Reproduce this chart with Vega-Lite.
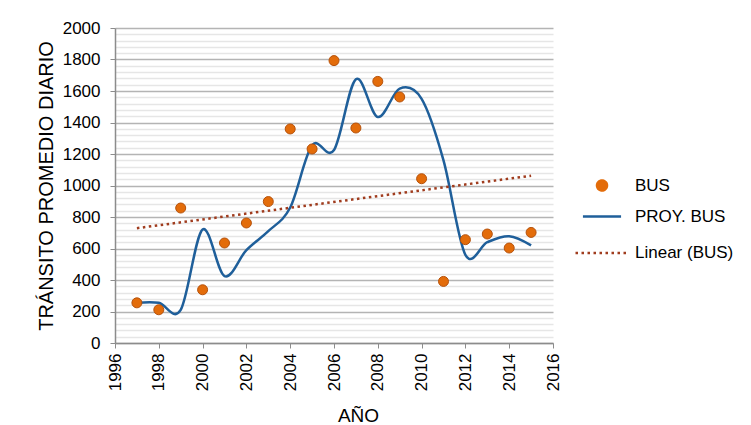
{
  "$schema": "https://vega.github.io/schema/vega-lite/v6.json",
  "width": 438,
  "height": 315,
  "autosize": "none",
  "padding": {"left": 115, "top": 28, "right": 198, "bottom": 82},
  "background": "white",
  "config": {"view": {"stroke": null}, "font": "Liberation Sans"},
  "data": {
    "values": [
      {"year": 1997, "bus": 255, "proy": 255},
      {"year": 1998, "bus": 211, "proy": 255},
      {"year": 1999, "bus": 857, "proy": 210},
      {"year": 2000, "bus": 338, "proy": 720},
      {"year": 2001, "bus": 635, "proy": 425},
      {"year": 2002, "bus": 762, "proy": 590},
      {"year": 2003, "bus": 898, "proy": 710},
      {"year": 2004, "bus": 1359, "proy": 860},
      {"year": 2005, "bus": 1232, "proy": 1255},
      {"year": 2006, "bus": 1793, "proy": 1225},
      {"year": 2007, "bus": 1365, "proy": 1675},
      {"year": 2008, "bus": 1661, "proy": 1435},
      {"year": 2009, "bus": 1562, "proy": 1615},
      {"year": 2010, "bus": 1043, "proy": 1550},
      {"year": 2011, "bus": 391, "proy": 1160},
      {"year": 2012, "bus": 656, "proy": 560},
      {"year": 2013, "bus": 692, "proy": 640},
      {"year": 2014, "bus": 603, "proy": 678},
      {"year": 2015, "bus": 702, "proy": 620}
    ]
  },
  "layer": [
    {
      "mark": {"type": "point", "opacity": 0},
      "encoding": {
        "y": {
          "field": "bus",
          "type": "quantitative",
          "scale": {"domain": [0, 2000]},
          "axis": {
            "orient": "right",
            "values": [40,80,120,160,240,280,320,360,440,480,520,560,640,680,720,760,840,880,920,960,1040,1080,1120,1160,1240,1280,1320,1360,1440,1480,1520,1560,1640,1680,1720,1760,1840,1880,1920,1960],
            "grid": true,
            "gridColor": "#e6e6e6",
            "gridWidth": 1.3,
            "labels": false,
            "ticks": false,
            "domain": false,
            "title": null
          }
        }
      }
    },
    {
      "encoding": {
        "x": {
          "field": "year",
          "type": "quantitative",
          "scale": {"domain": [1996, 2016]},
          "axis": {
            "values": [1996,1998,2000,2002,2004,2006,2008,2010,2012,2014,2016],
            "format": "d",
            "labelAngle": 270,
            "labelOverlap": false,
            "labelFontSize": 17,
            "labelColor": "#000000",
            "labelPadding": 5,
            "tickSize": 5,
            "tickColor": "#8c8c8c",
            "domainColor": "#8c8c8c",
            "domainWidth": 1.5,
            "grid": false,
            "title": "AÑO",
            "titleFontSize": 19,
            "titleFontWeight": "normal",
            "titleColor": "#000000",
            "titleX": 243,
            "titleY": 78,
            "titleAlign": "center",
            "titleBaseline": "alphabetic"
          }
        }
      },
      "layer": [
        {
          "mark": {"type": "line", "interpolate": "cardinal", "strokeWidth": 2.5},
          "encoding": {
            "y": {
              "field": "proy",
              "type": "quantitative",
              "scale": {"domain": [0, 2000]},
              "title": "TRÁNSITO PROMEDIO DIARIO",
              "axis": {
                "values": [0,200,400,600,800,1000,1200,1400,1600,1800,2000],
                "format": "d",
                "labelOverlap": false,
                "grid": true,
                "gridColor": "#b4b4b4",
                "gridWidth": 1.3,
                "labelFontSize": 17,
                "labelColor": "#000000",
                "labelPadding": 10,
                "tickSize": 5,
                "tickColor": "#8c8c8c",
                "domainColor": "#8c8c8c",
                "domainWidth": 1.5,
                "titleFontSize": 20,
                "titleFontWeight": "normal",
                "titleColor": "#000000",
                "titleX": -63,
                "titleY": 157.5,
                "titleAngle": 270,
                "titleAlign": "center",
                "titleBaseline": "alphabetic"
              }
            },
            "color": {"datum": "PROY. BUS", "type": "nominal"}
          }
        },
        {
          "transform": [{"regression": "bus", "on": "year"}],
          "mark": {"type": "line", "strokeWidth": 2.5},
          "encoding": {
            "y": {
              "field": "bus",
              "type": "quantitative",
              "title": "TRÁNSITO PROMEDIO DIARIO",
              "axis": {
                "values": [0,200,400,600,800,1000,1200,1400,1600,1800,2000],
                "format": "d",
                "labelOverlap": false,
                "grid": true,
                "gridColor": "#b4b4b4",
                "gridWidth": 1.3,
                "labelFontSize": 17,
                "labelColor": "#000000",
                "labelPadding": 10,
                "tickSize": 5,
                "tickColor": "#8c8c8c",
                "domainColor": "#8c8c8c",
                "domainWidth": 1.5,
                "titleFontSize": 20,
                "titleFontWeight": "normal",
                "titleColor": "#000000",
                "titleX": -63,
                "titleY": 157.5,
                "titleAngle": 270,
                "titleAlign": "center",
                "titleBaseline": "alphabetic"
              }
            },
            "color": {"datum": "Linear (BUS)", "type": "nominal"},
            "strokeDash": {
              "datum": "Linear (BUS)",
              "type": "nominal",
              "scale": {
                "domain": ["BUS", "PROY. BUS", "Linear (BUS)"],
                "range": [[1, 0], [1, 0], [2.5, 3.5]]
              }
            }
          }
        },
        {
          "mark": {"type": "point", "filled": true, "opacity": 1, "stroke": "#b5520c", "strokeWidth": 1},
          "encoding": {
            "y": {
              "field": "bus",
              "type": "quantitative",
              "title": "TRÁNSITO PROMEDIO DIARIO",
              "axis": {
                "values": [0,200,400,600,800,1000,1200,1400,1600,1800,2000],
                "format": "d",
                "labelOverlap": false,
                "grid": true,
                "gridColor": "#b4b4b4",
                "gridWidth": 1.3,
                "labelFontSize": 17,
                "labelColor": "#000000",
                "labelPadding": 10,
                "tickSize": 5,
                "tickColor": "#8c8c8c",
                "domainColor": "#8c8c8c",
                "domainWidth": 1.5,
                "titleFontSize": 20,
                "titleFontWeight": "normal",
                "titleColor": "#000000",
                "titleX": -63,
                "titleY": 157.5,
                "titleAngle": 270,
                "titleAlign": "center",
                "titleBaseline": "alphabetic"
              }
            },
            "shape": {
              "datum": "BUS",
              "type": "nominal",
              "scale": {
                "domain": ["BUS", "PROY. BUS", "Linear (BUS)"],
                "range": ["circle", "stroke", "stroke"]
              }
            },
            "size": {
              "datum": "BUS",
              "type": "nominal",
              "scale": {
                "domain": ["BUS", "PROY. BUS", "Linear (BUS)"],
                "range": [100, 2809, 2809]
              }
            },
            "color": {
              "datum": "BUS",
              "type": "nominal",
              "scale": {
                "domain": ["BUS", "PROY. BUS", "Linear (BUS)"],
                "range": ["#e36c0a", "#1f5f9a", "#a03c1e"]
              },
              "legend": {
                "orient": "none",
                "legendX": 459,
                "legendY": 149,
                "title": null,
                "labelFontSize": 17,
                "labelColor": "#000000",
                "labelOffset": 5,
                "symbolStrokeWidth": 2.5,
                "rowPadding": -6
              }
            }
          }
        }
      ]
    }
  ],
  "resolve": {"scale": {"y": "independent"}}
}
